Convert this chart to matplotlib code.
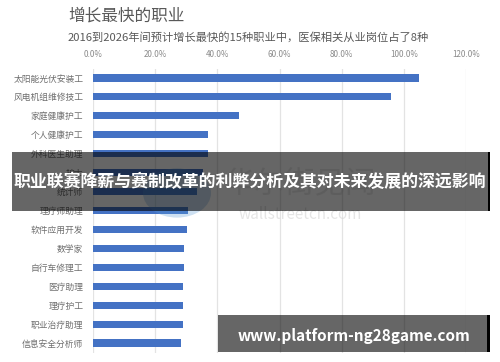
import matplotlib
matplotlib.use("Agg")
import matplotlib.pyplot as plt
from matplotlib.patches import Rectangle, Circle

plt.rcParams['font.family'] = ['Noto Sans CJK SC', 'DejaVu Sans']

categories = ["太阳能光伏安装工", "风电机组维修技工", "家庭健康护工", "个人健康护工", "外科医生助理",
              "护士", "统计师", "理疗师助理", "软件应用开发", "数学家", "自行车修理工", "医疗助理",
              "理疗护工", "职业治疗助理", "信息安全分析师"]
values = [105, 96, 47, 37, 37, 35.5, 33.5, 30.7, 30.4, 29.4, 29.4, 29.1, 29.1, 28.9, 28.4]
xticks = [0, 20, 40, 60, 80, 100, 120]
xtick_labels = ["0.0%", "20.0%", "40.0%", "60.0%", "80.0%", "100.0%", "120.0%"]

W, H = 500, 362
fig = plt.figure(figsize=(W / 100, H / 100), dpi=100)

def fx(px):
    return px / W

def fy(py):
    return 1 - py / H

ax = fig.add_axes([fx(93), fy(352.5), fx(466) - fx(93), fy(68.5) - fy(352.5)])
ypos = list(range(len(categories)))
ax.barh(ypos, values, height=0.38, color="#4472C4", zorder=3)
ax.set_ylim(len(categories) - 0.5, -0.5)
ax.set_xlim(0, 120)
ax.set_xticks(xticks)
ax.set_xticklabels(xtick_labels)
ax.xaxis.tick_top()
ax.tick_params(axis='x', length=0, pad=7, labelsize=5.8, labelcolor="#8a8a8a")
ax.set_yticks(ypos)
ax.set_yticklabels(categories)
ax.tick_params(axis='y', length=0, pad=7, labelsize=6.3, labelcolor="#6e6e6e")
ax.grid(axis='x', color="#e3e3e3", linewidth=0.9, zorder=0)
for s in ax.spines.values():
    s.set_visible(False)

fig.text(fx(68), fy(16), "增长最快的职业", fontsize=12, color="#595959", va="center", ha="left")
fig.text(fx(68), fy(37), "2016到2026年间预计增长最快的15种职业中，医保相关从业岗位占了8种",
         fontsize=8.1, color="#595959", va="center", ha="left")

# watermark
circ = Circle((fx(177), fy(193)), 34 / W, transform=fig.transFigure, facecolor="#5b9bd5",
              alpha=0.3, edgecolor="none", zorder=5)
fig.add_artist(circ)
fig.text(fx(300), fy(185), "华尔街见闻", fontsize=22, color="#d5d5d5", alpha=0.5, ha="center", va="center", zorder=6)
fig.text(fx(300), fy(214), "wallstreetcn.com", fontsize=11, color="#d5d5d5", alpha=0.6, ha="center", va="center", zorder=6)

# overlay banners
fig.add_artist(Rectangle((fx(12), fy(211)), fx(488) - fx(12), fy(152) - fy(211),
                         transform=fig.transFigure, facecolor="black", alpha=0.6, edgecolor="none", zorder=10))
fig.add_artist(Rectangle((fx(488), fy(211)), fx(490) - fx(488), fy(152) - fy(211),
                         transform=fig.transFigure, facecolor="black", edgecolor="none", zorder=10))
fig.text(fx(250), fy(182), "职业联赛降薪与赛制改革的利弊分析及其对未来发展的深远影响",
         fontsize=12.2, fontweight="bold", color="white", ha="center", va="center", zorder=11)

fig.add_artist(Rectangle((fx(218), fy(352)), fx(487) - fx(218), fy(315) - fy(352),
                         transform=fig.transFigure, facecolor="black", alpha=0.6, edgecolor="none", zorder=10))
fig.add_artist(Rectangle((fx(487), fy(352)), fx(490) - fx(487), fy(315) - fy(352),
                         transform=fig.transFigure, facecolor="black", edgecolor="none", zorder=10))
fig.text(fx(354), fy(336), "www.platform-ng28game.com", fontsize=11, fontweight="bold",
         color="white", ha="center", va="center", zorder=11)

fig.savefig("out.png", dpi=100)
